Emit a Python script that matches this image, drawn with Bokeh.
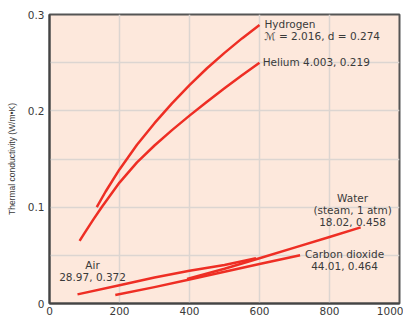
from bokeh.plotting import figure
from bokeh.models import Range1d, FixedTicker, Label
from bokeh.core.properties import value
from bokeh.embed import file_html
from bokeh.resources import INLINE

# Data (temperature K, thermal conductivity W/m.K)
h2_T = [135, 160, 200, 250, 300, 350, 400, 450, 500, 550, 600]
h2_k = [0.100, 0.116, 0.1392, 0.1647, 0.1872, 0.2077, 0.2267, 0.2442, 0.2602, 0.2752, 0.2892]
he_T = [86, 100, 125, 150, 200, 250, 300, 350, 400, 450, 500, 550, 600]
he_k = [0.065, 0.073, 0.087, 0.1005, 0.1255, 0.1465, 0.164, 0.180, 0.195, 0.2095, 0.2235, 0.237, 0.250]
air_T = [80, 200, 300, 400, 500, 590]
air_k = [0.0095, 0.019, 0.027, 0.034, 0.040, 0.047]
co2_T = [188, 300, 400, 500, 600, 716]
co2_k = [0.0088, 0.017, 0.025, 0.033, 0.041, 0.050]
h2o_T = [393, 500, 600, 700, 800, 889]
h2o_k = [0.0255, 0.036, 0.047, 0.058, 0.069, 0.079]

x_ticks = [0, 200, 400, 600, 800, 1000]
y_ticks = [0, 0.1, 0.2, 0.3]
y_tick_labels = ["0", "0.1", "0.2", "0.3"]
y_minor = [0.05, 0.15, 0.25]

labels_text = ["Hydrogen\nℳ = 2.016, d = 0.274", "Helium 4.003, 0.219",
               "Water\n(steam, 1 atm)\n18.02, 0.458", "Carbon dioxide\n44.01, 0.464",
               "Air\n28.97, 0.372"]
labels_x = [614, 609, 866, 843, 123]
labels_y = [0.2838, 0.251, 0.0968, 0.0454, 0.034]
labels_align = ["left", "left", "center", "center", "center"]

RED = "#ee2e24"
TXT = "#3a3a3a"
FONT = "DejaVu Sans"

p = figure(width=403, height=327, output_backend="svg", toolbar_location=None,
           x_range=Range1d(0, 1000), y_range=Range1d(0, 0.3),
           min_border_left=49, min_border_right=4, min_border_top=14, min_border_bottom=24)
p.background_fill_color = "#fde8dc"
p.border_fill_color = "white"
p.outline_line_color = "#555555"
p.outline_line_width = 2

p.xaxis.ticker = FixedTicker(ticks=x_ticks)
p.yaxis.ticker = FixedTicker(ticks=y_ticks, minor_ticks=y_minor)
p.yaxis.major_label_overrides = {t: s for t, s in zip(y_ticks, y_tick_labels)}

for ax in (p.xaxis, p.yaxis):
    ax.axis_line_color = "#444444"
    ax.axis_line_width = 2
    ax.major_tick_line_color = None
    ax.minor_tick_line_color = None
    ax.major_tick_out = 0
    ax.major_tick_in = 0
    ax.minor_tick_out = 0
    ax.minor_tick_in = 0
    ax.major_label_text_font = FONT
    ax.major_label_text_font_size = "10.5px"
    ax.major_label_text_color = TXT
p.xaxis.major_label_standoff = 3
p.yaxis.major_label_standoff = 5

p.yaxis.axis_label = "Thermal conductivity (W/m•K)"
p.yaxis.axis_label_text_font = "Liberation Sans"
p.yaxis.axis_label_text_font_size = "8.5px"
p.yaxis.axis_label_text_font_style = "normal"
p.yaxis.axis_label_text_color = TXT
p.yaxis.axis_label_standoff = 8

p.xgrid.grid_line_color = "#dcd5d1"
p.xgrid.grid_line_width = 1.5
p.ygrid.grid_line_color = "#dcd5d1"
p.ygrid.grid_line_width = 1.5
p.ygrid.minor_grid_line_color = "#dcd5d1"
p.ygrid.minor_grid_line_width = 1.5

for T, k in [(h2_T, h2_k), (he_T, he_k), (air_T, air_k), (co2_T, co2_k), (h2o_T, h2o_k)]:
    p.line(T, k, line_color=RED, line_width=2.5, line_join="round")

for t, x, y, a in zip(labels_text, labels_x, labels_y, labels_align):
    p.text(x=[x], y=[y], text=[t], text_align=a, text_baseline="middle",
           text_font=value(FONT), text_font_size="10.5px", text_color=TXT,
           text_line_height=1.0)

p.add_layout(Label(x=500, y=-0.0187, text="Temperature (K)", text_align="center",
                   text_baseline="middle", text_font=FONT, text_font_size="10.5px",
                   text_color=TXT))

open("out.html", "w").write(file_html(p, INLINE))
